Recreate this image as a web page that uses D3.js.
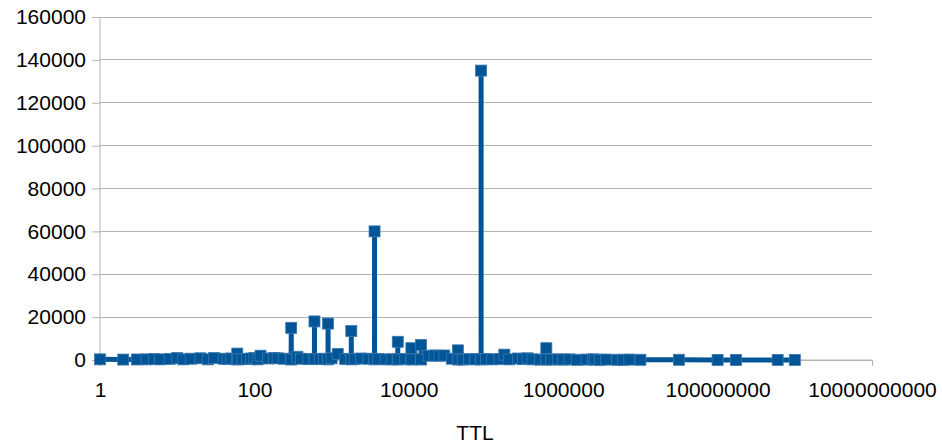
<!DOCTYPE html>
<html>
<head>
<meta charset="utf-8">
<script src="https://cdn.jsdelivr.net/npm/d3@7"></script>
<style>
  html, body { margin: 0; padding: 0; background: #fff; }
  svg { display: block; }
  text { font-family: "Liberation Sans", Arial, sans-serif; fill: #000; }
</style>
</head>
<body>
<svg id="chart" width="942" height="443"></svg>
<script>
// TTL (seconds) and record counts
const ttl = [
  1, 2, 3, 4, 5, 6, 8, 10, 12, 15, 20, 25, 30, 40, 45, 50, 59, 60, 61, 70,
  80, 90, 100, 110, 120, 150, 180, 200, 240, 299, 300, 301, 360, 400, 500,
  599, 600, 601, 700, 800, 899, 900, 901, 1000, 1200, 1500, 1799, 1800,
  1801, 2000, 2400, 3000, 3599, 3600, 3601, 4000, 5000, 6000, 7199, 7200,
  7201, 9000, 10799, 10800, 10801, 14399, 14400, 14401, 18000, 21600,
  25000, 28800, 36000, 43199, 43200, 43201, 50000, 60000, 72000, 86399,
  86400, 86401, 100000, 120000, 150000, 172800, 200000, 259200, 300000,
  345600, 400000, 500000, 604799, 604800, 604801, 700000, 864000,
  1000000, 1209600, 1500000, 2000000, 2419200, 2592000, 3000000, 3600000,
  5000000, 6000000, 7200000, 10000000, 31536000, 100000000, 172800000,
  600000000, 1000000000
];
const counts = [
  300, 200, 250, 300, 400, 300, 500, 900, 300, 600, 800, 300, 900, 600,
  400, 700, 300, 3000, 300, 500, 400, 700, 900, 300, 2000, 700, 900, 800,
  600, 300, 15000, 300, 1500, 600, 400, 400, 18000, 500, 500, 600, 300,
  17000, 400, 800, 2800, 500, 400, 13500, 300, 500, 700, 600, 300, 60000,
  400, 500, 300, 300, 300, 8500, 300, 400, 300, 5500, 300, 300, 7000, 300,
  2000, 2100, 2000, 2100, 600, 300, 4500, 300, 200, 400, 300, 300, 135000,
  300, 500, 300, 400, 2500, 300, 700, 400, 800, 300, 200, 300, 5500, 300,
  200, 300, 200, 300, 100, 200, 300, 200, 100, 200, 100, 100, 200, 100,
  100, 50, 50, 50, 50
];
const yTicks = [0, 20000, 40000, 60000, 80000, 100000, 120000, 140000, 160000];
const xTicks = [1, 100, 10000, 1000000, 100000000, 10000000000];
const xTitle = 'TTL';

const M = { left: 100, right: 872, top: 17, bottom: 360 };
const blue = '#005596';
const grid = '#b3b3b3';
const font = '"Liberation Sans", Arial, sans-serif';

const svg = d3.select('#chart');
const x = d3.scaleLog().domain([1, 1e10]).range([M.left, M.right]);
const y = d3.scaleLinear().domain([0, 160000]).range([M.bottom, M.top]);

// horizontal gridlines
svg.append('g')
  .selectAll('line')
  .data(yTicks)
  .join('line')
  .attr('x1', M.left).attr('x2', M.right)
  .attr('y1', d => y(d)).attr('y2', d => y(d))
  .attr('stroke', grid).attr('stroke-width', 1)
  .attr('shape-rendering', 'crispEdges');

// y axis
const yAxis = svg.append('g')
  .attr('transform', `translate(${M.left},0)`)
  .call(d3.axisLeft(y).tickValues(yTicks).tickSize(8).tickPadding(6).tickFormat(d3.format('d')));
yAxis.select('.domain').attr('stroke', grid).attr('d', `M0,${M.top}V${M.bottom + 6}`);
yAxis.selectAll('.tick line').attr('stroke', grid);
yAxis.selectAll('.tick text').attr('font-size', 21).attr('fill', '#111').style('font-family', font);

// x axis
const xAxis = svg.append('g')
  .attr('transform', `translate(0,${M.bottom})`)
  .call(d3.axisBottom(x).tickValues(xTicks).tickSize(6).tickPadding(16).tickFormat(d3.format('d')));
xAxis.select('.domain').attr('stroke', grid).attr('d', `M${M.left},0H${M.right}`);
xAxis.selectAll('.tick line').attr('stroke', grid);
xAxis.selectAll('.tick text').attr('font-size', 21).attr('fill', '#111').style('font-family', font);

svg.append('text')
  .attr('x', 475).attr('y', 440)
  .attr('text-anchor', 'middle')
  .attr('font-size', 21)
  .attr('fill', '#111')
  .text(xTitle);

// series
const pts = ttl.map((t, i) => ({ t, v: counts[i] }));
const line = d3.line().x(d => x(d.t)).y(d => y(d.v));
svg.append('path')
  .datum(pts)
  .attr('fill', 'none')
  .attr('stroke', blue)
  .attr('stroke-width', 5)
  .attr('stroke-linejoin', 'round')
  .attr('d', line);

const sq = 11;
svg.append('g')
  .selectAll('rect')
  .data(pts)
  .join('rect')
  .attr('x', d => x(d.t) - sq / 2)
  .attr('y', d => y(d.v) - sq / 2)
  .attr('width', sq).attr('height', sq)
  .attr('fill', blue)
  .attr('stroke', '#3b78b0')
  .attr('stroke-width', 0.8);
</script>
</body>
</html>
